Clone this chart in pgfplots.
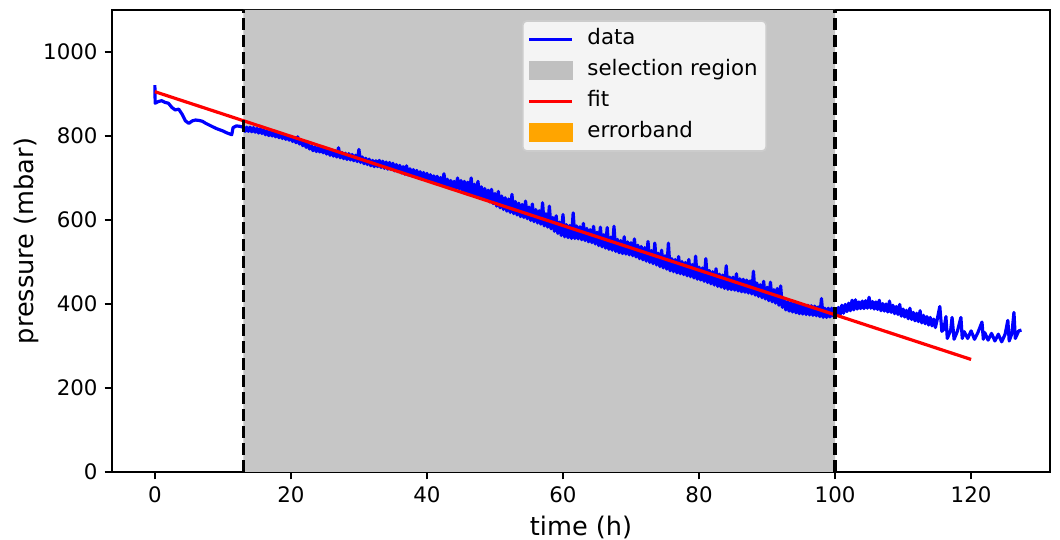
\documentclass[border=0pt]{standalone}
\usepackage{fontspec}
\setmainfont{DejaVu Sans}
\usepackage{pgfplots}
\pgfplotsset{compat=1.18}

\definecolor{regiongray}{RGB}{198,198,198}
\definecolor{legpatch}{RGB}{192,192,192}
\definecolor{legbg}{RGB}{244,244,244}
\definecolor{legframe}{RGB}{204,204,204}
\definecolor{errorange}{RGB}{255,165,0}

\begin{document}
\begin{tikzpicture}
\begin{axis}[
  name=ax,
  scale only axis,
  width=469pt, height=231pt,
  xmin=-6.3, xmax=131.6,
  ymin=0, ymax=1100,
  xtick={0,20,...,120},
  ytick={0,200,...,1000},
  tick align=outside,
  major tick length=3.7pt,
  tick style={black, line width=0.85pt},
  axis line style={line width=0.85pt},
  xtick pos=bottom, ytick pos=left,
  tick label style={font=\fontsize{10.67}{12.8}\selectfont},
  label style={font=\fontsize{12.8}{15.4}\selectfont},
  ylabel shift=-4.5pt,
  /pgf/number format/assume math mode=true,
  /pgf/number format/1000 sep={},
  xlabel={time (h)},
  ylabel={pressure (mbar)},
  legend cell align=left,
  legend style={
    at={(0.437,0.978)}, anchor=north west,
    fill=legbg, draw=legframe, line width=0.85pt,
    rounded corners=2pt,
    font=\fontsize{10.67}{12.8}\selectfont,
    inner xsep=2.5pt, inner ysep=2.45pt,
    row sep=1.9pt, column sep=5pt,
    nodes={inner xsep=1.75pt, inner ysep=1.5pt, text height=8pt, text depth=2.6pt},
  },
]

% legend entries
\addlegendimage{legend image code/.code={\draw[blue, line width=1.6pt, sharp corners] (0pt,0pt) -- (21.5pt,0pt);}}
\addlegendentry{data}
\addlegendimage{legend image code/.code={\fill[legpatch, sharp corners] (0pt,-4.3pt) rectangle (21.5pt,4.3pt);}}
\addlegendentry{selection region}
\addlegendimage{legend image code/.code={\draw[red, line width=1.6pt, sharp corners] (0pt,0pt) -- (21.5pt,0pt);}}
\addlegendentry{fit}
\addlegendimage{legend image code/.code={\fill[errorange, sharp corners] (0pt,-4.3pt) rectangle (21.5pt,4.3pt);}}
\addlegendentry{errorband}

% selection region
\addplot[draw=none, fill=regiongray, forget plot]
  coordinates {(13,0) (13,1100) (100,1100) (100,0)} \closedcycle;

% measured pressure
\addplot[blue, line width=1.6pt, line join=round, forget plot] coordinates {
(0,921) (0.05,878) (0.5,882) (1,884) (1.5,880) (2,878) (2.5,868) (3,862) (3.5,864)
(4,852) (4.5,836) (5,830) (5.5,836) (6,838) (6.5,837) (7,835) (7.5,830) (8,826)
(8.5,822) (9,818) (9.5,815) (10,812) (10.5,808) (11,805) (11.3,803) (11.5,820)
(12,824) (12.5,823) (13,821)
(13.25,811) (13.5,821) (13.75,811) (14,821) (14.25,810) (14.5,820) (14.75,809) (15,818)
(15.25,807) (15.5,817) (15.75,806) (16,815) (16.25,803) (16.5,812) (16.75,801) (17,811)
(17.25,800) (17.5,809) (17.75,798) (18,807) (18.25,796) (18.5,806) (18.75,794) (19,803)
(19.25,792) (19.5,801) (19.75,790) (20,799) (20.25,787) (20.5,796) (20.75,784) (21,798)
(21.25,781) (21.5,789) (21.75,777) (22,785) (22.25,773) (22.5,781) (22.75,769) (23,777)
(23.25,765) (23.5,774) (23.75,763) (24,773) (24.25,762) (24.5,771) (24.75,760) (25,769)
(25.25,757) (25.5,770) (25.75,754) (26,767) (26.25,752) (26.5,765) (26.75,750) (27,772)
(27.25,748) (27.5,761) (27.75,746) (28,759) (28.25,744) (28.5,758) (28.75,743) (29,756)
(29.25,741) (29.5,754) (29.75,739) (30,768) (30.25,737) (30.5,750) (30.75,734) (31,747)
(31.25,732) (31.5,745) (31.75,729) (32,742) (32.25,727) (32.5,741) (32.75,727) (33,742)
(33.25,725) (33.5,740) (33.75,723) (34,738) (34.25,721) (34.5,737) (34.75,720) (35,735)
(35.25,717) (35.5,732) (35.75,715) (36,730) (36.25,712) (36.5,727) (36.75,709) (37,729)
(37.25,707) (37.5,722) (37.75,705) (38,720) (38.25,703) (38.5,718) (38.75,700) (39,715)
(39.25,698) (39.5,713) (39.75,696) (40,711) (40.25,693) (40.5,708) (40.75,690) (41,705)
(41.25,688) (41.5,704) (41.75,686) (42,701) (42.25,683) (42.5,710) (42.75,681) (43,697)
(43.25,679) (43.5,694) (43.75,677) (44,692) (44.25,675) (44.5,700) (44.75,674)
(45,694) (45.25,667) (45.5,692) (45.75,665) (46,690) (46.25,663) (46.5,700) (46.75,660)
(47,685) (47.25,658) (47.5,692) (47.75,655) (48,679) (48.25,651) (48.5,675) (48.75,647)
(49,671) (49.25,643) (49.5,673) (49.75,639) (50,663) (50.25,633) (50.5,668) (50.75,629)
(51,657) (51.25,625) (51.5,653) (51.75,621) (52,650) (52.25,618) (52.5,661) (52.75,615)
(53,644) (53.25,612) (53.5,640) (53.75,608) (54,637) (54.25,606) (54.5,645) (54.75,603)
(55,631) (55.25,599) (55.5,638) (55.75,596) (56,625) (56.25,593) (56.5,622) (56.75,590)
(57,641) (57.25,586) (57.5,615) (57.75,583) (58,633) (58.25,579) (58.5,606) (58.75,573)
(59,610) (59.25,568) (59.5,595) (59.75,563) (60,613) (60.25,560) (60.5,589) (60.75,558)
(61,587) (61.25,556) (61.5,617) (61.75,556) (62,586) (62.25,555) (62.5,584) (62.75,553)
(63,592) (63.25,551) (63.5,580) (63.75,548) (64,577) (64.25,546) (64.5,585) (64.75,543)
(65,571) (65.25,539) (65.5,583) (65.75,536) (66,565) (66.25,533) (66.5,582) (66.75,530)
(67,559) (67.25,528) (67.5,585) (67.75,525) (68,554) (68.25,522) (68.5,551) (68.75,520)
(69,560) (69.25,519) (69.5,548) (69.75,517) (70,546) (70.25,515) (70.5,555) (70.75,512)
(71,540) (71.25,508) (71.5,537) (71.75,505) (72,534) (72.25,502) (72.5,549) (72.75,499)
(73,527) (73.25,496) (73.5,545) (73.75,493) (74,521) (74.25,489) (74.5,528) (74.75,486)
(75,515) (75.25,483) (75.5,545) (75.75,479) (76,508) (76.25,477) (76.5,506) (76.75,474)
(77,513) (77.25,472) (77.5,501) (77.75,470) (78,499) (78.25,467) (78.5,506) (78.75,465)
(79,494) (79.25,462) (79.5,514) (79.75,459) (80,488) (80.25,457) (80.5,486) (80.75,454)
(81,508) (81.25,451) (81.5,480) (81.75,448) (82,477) (82.25,445) (82.5,484) (82.75,442)
(83,471) (83.25,440) (83.5,469) (83.75,437) (84,491) (84.25,435) (84.5,464) (84.75,434)
(85,464) (85.25,433) (85.5,472) (85.75,431) (86,460) (86.25,429) (86.5,459) (86.75,428)
(87,457) (87.25,426) (87.5,455) (87.75,424) (88,478) (88.25,421) (88.5,450) (88.75,418)
(89,446) (89.25,415) (89.5,454) (89.75,412) (90,440) (90.25,408) (90.5,452) (90.75,405)
(91,434) (91.25,402) (91.5,437) (91.75,397) (92,443)
(92.25,392) (92.5,410) (92.75,386) (93,406)
(93.25,383) (93.5,404) (93.75,381) (94,402) (94.25,379) (94.5,400) (94.75,377) (95,399)
(95.25,376) (95.5,398) (95.75,375) (96,397) (96.25,374) (96.5,396) (96.75,373) (97,395)
(97.25,372) (97.5,393) (97.75,370) (98,413) (98.25,368) (98.5,390) (98.75,368) (99,390)
(99.25,369) (99.5,390) (99.75,371) (100,385)
(100.25,372) (100.5,392) (100.75,375) (101,397) (101.25,378) (101.5,399) (101.75,382)
(102,402) (102.25,384) (102.5,409) (102.75,386) (103,410) (103.25,388) (103.5,405)
(103.75,389) (104,407) (104.25,389) (104.5,408) (104.75,390) (105,416) (105.25,390)
(105.5,406) (105.75,388) (106,405) (106.25,387) (106.5,409) (106.75,384) (107,401)
(107.25,383) (107.5,400) (107.75,381) (108,407) (108.25,380) (108.5,397) (108.75,377)
(109,394) (109.25,375) (109.5,399) (109.75,371) (110,388) (110.25,369) (110.5,385)
(110.75,365) (111,390) (111.25,363) (111.5,380) (111.75,360) (112,378) (112.25,358)
(112.5,384) (112.75,355) (113,373) (113.25,353) (113.5,370) (113.75,350) (114,368)
(114.25,348) (114.5,364) (114.75,344) (115,362)
(115.4,394) (115.7,335) (116,340) (116.3,370) (116.5,318)
(117,338) (117.2,368) (117.5,316) (118,336) (118.5,368) (118.7,318) (119,334)
(119.5,318) (120,336) (120.5,316) (121,332) (121.6,357) (121.8,316) (122,332)
(122.5,314) (123,330) (123.5,312) (124,328) (124.5,310) (125,328) (125.4,361)
(125.6,312) (126,330) (126.3,380) (126.5,318) (127,336) (127.4,338)
};

% linear fit
\addplot[red, line width=1.6pt, forget plot] coordinates {(0,905.5) (120,268)};

% selection boundaries
\addplot[black, line width=1.6pt, dash pattern=on 5.9pt off 2.6pt, forget plot]
  coordinates {(13,0) (13,1100)};
\addplot[black, line width=1.6pt, dash pattern=on 5.9pt off 2.6pt, forget plot]
  coordinates {(100,0) (100,1100)};

\end{axis}
\pgfresetboundingbox
\path ([shift={(-56pt,-34pt)}]ax.south west) rectangle ([shift={(5pt,5pt)}]ax.north east);
\end{tikzpicture}
\end{document}
